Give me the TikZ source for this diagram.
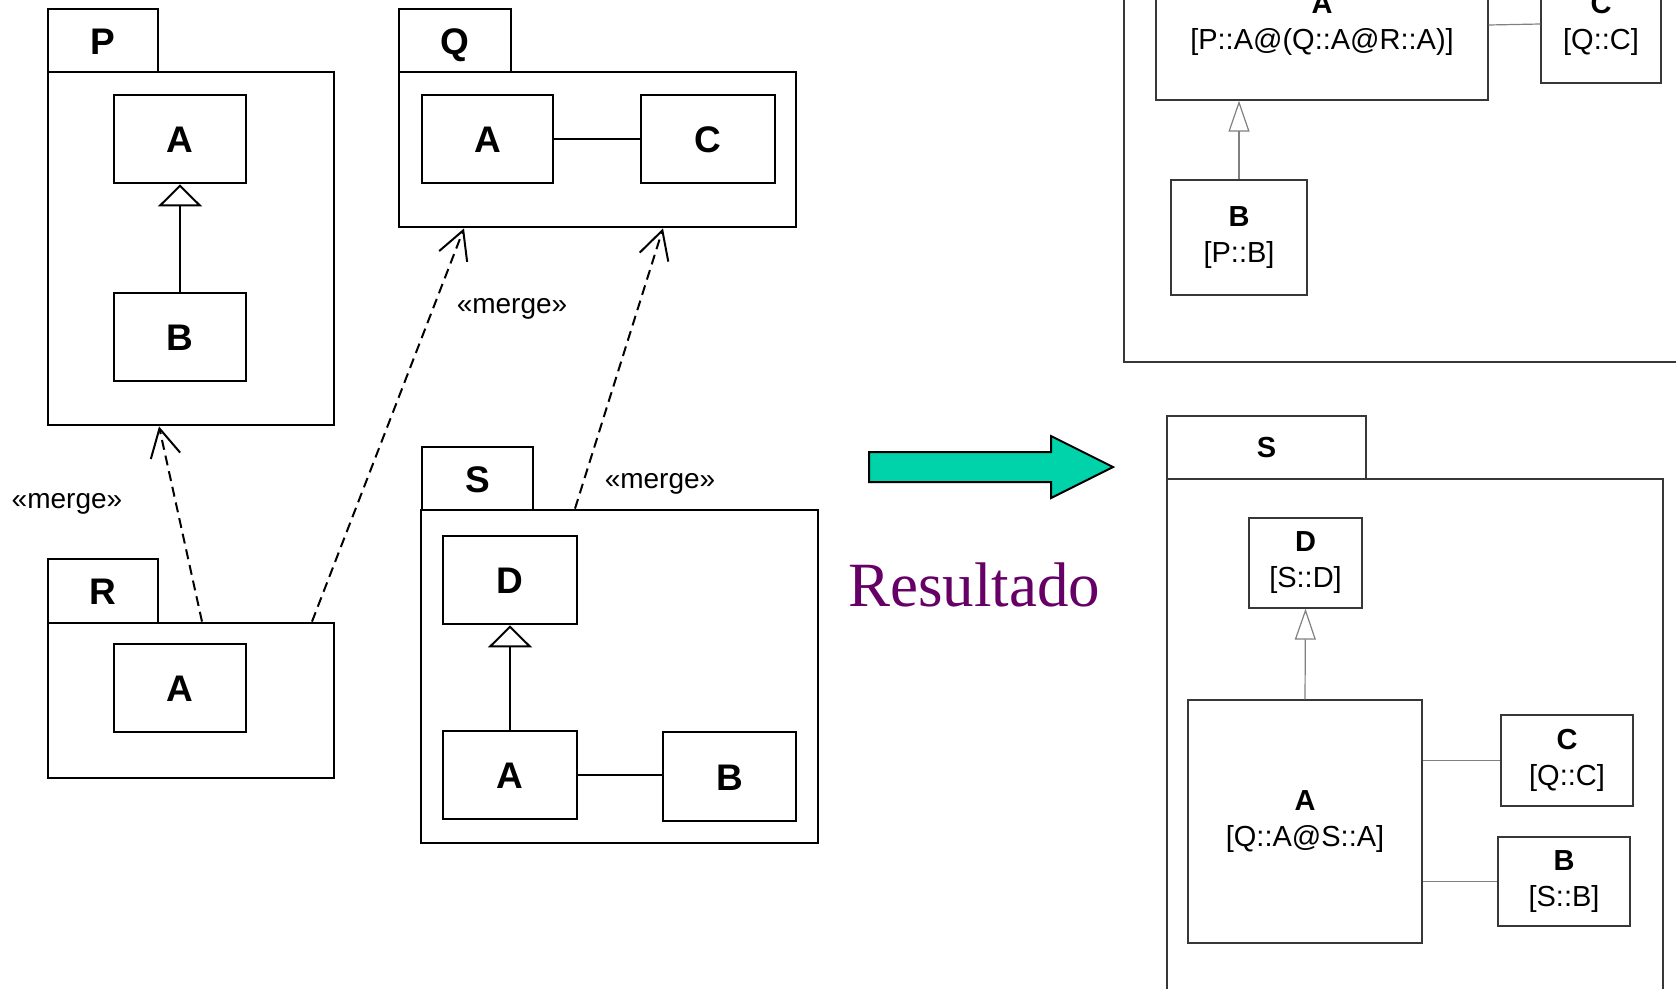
\documentclass[tikz,border=0pt]{standalone}
\usepackage{fontspec}
\setmainfont{Liberation Sans}
\newfontfamily\serifada{Liberation Serif}
\usetikzlibrary{arrows.meta}
\definecolor{verdeagua}{RGB}{0,210,170}
\definecolor{roxo}{RGB}{102,0,102}
\definecolor{cinza}{RGB}{55,55,55}
\tikzstyle{classe} = [rectangle, draw=black, line width=2.8, inner sep=0, minimum width=132, minimum height=88, text height=27, text depth=0, font=\fontsize{37}{40}\selectfont\bfseries]
\tikzstyle{pacote} = [rectangle, draw=black, line width=2.8, inner sep=0]
\tikzstyle{aba} = [rectangle, draw=black, line width=2.8, inner sep=0, minimum width=110, minimum height=63, text height=27, text depth=0, font=\fontsize{37}{40}\selectfont\bfseries]
\tikzstyle{classefina} = [rectangle, draw=cinza, line width=1.3, inner sep=0, align=center, font=\fontsize{29}{36}\selectfont]
\tikzstyle{pacotefino} = [rectangle, draw=cinza, line width=1.3, inner sep=0, font=\fontsize{29}{36}\selectfont\bfseries]
\tikzstyle{rotulo} = [font=\fontsize{28}{30}\selectfont]
\tikzstyle{dependencia} = [line width=2, dash pattern=on 10pt off 6pt, -{Straight Barb[length=28pt, width=30pt, line width=2pt]}]
\tikzstyle{heranca} = [line width=2.2, -{Triangle[open, length=22pt, width=44pt, line width=2pt]}]
\tikzstyle{assoc} = [line width=2.2]
\tikzstyle{herancafina} = [line width=1.2, draw=gray, -{Triangle[open, length=31pt, width=21pt, line width=1.2pt]}]
\tikzstyle{assocfina} = [line width=1.2, draw=gray]

\begin{document}
\begin{tikzpicture}[x=1pt, y=-1pt]
\useasboundingbox (0,0) rectangle (1676,988);
\clip (0,0) rectangle (1676,988);

% Pacotes de origem
\node (Paba) [aba] at (103,40.5) {P};
\node (Pc) [pacote, minimum width=286, minimum height=353] at (191,248.5) {};
\node (PA) [classe] at (180,139) {A};
\node (PB) [classe] at (180,337) {B};

\node (Qaba) [aba, minimum width=112] at (455,40.5) {Q};
\node (Qc) [pacote, minimum width=397, minimum height=155] at (597.5,149.5) {};
\node (QA) [classe, minimum width=131] at (487.5,139) {A};
\node (QC) [classe, minimum width=134] at (708,139) {C};

\node (Raba) [aba, minimum height=64] at (103,591) {R};
\node (Rc) [pacote, minimum width=286, minimum height=155] at (191,700.5) {};
\node (RA) [classe] at (180,688) {A};

\node (Saba) [aba, minimum width=111] at (477.5,478.5) {S};
\node (Sc) [pacote, minimum width=397, minimum height=333] at (619.5,676.5) {};
\node (SD) [classe, minimum width=134] at (510,580) {D};
\node (SA) [classe, minimum width=134] at (510,775) {A};
\node (SB) [classe, minimum width=133, minimum height=89] at (729.5,776.5) {B};

% Conexões
\draw [heranca] (PB.north) -- (PA.south);
\draw [heranca] (SA.north) -- (SD.south);
\draw [assoc] (QA.east) -- (QC.west);
\draw [assoc] (SA.east) -- (SA.east -| SB.west);

\draw [dependencia] ([xshift=11]Rc.north) -- ([xshift=-32]Pc.south);
\draw [dependencia] ([xshift=121]Rc.north) -- ([xshift=-133.5]Qc.south);
\draw [dependencia] ([xshift=-44.5]Sc.north) -- ([xshift=65.5]Qc.south);

\node (m1) [rotulo] at (67,504) {«merge»};
\node (m2) [rotulo] at (512,309) {«merge»};
\node (m3) [rotulo] at (660,484) {«merge»};

% Seta e resultado
\draw [line width=2, fill=verdeagua] (869,452) -- (1051,452) -- (1051,436) -- (1113,467) -- (1051,498) -- (1051,482) -- (869,482) -- cycle;
\node (resultado) [text=roxo, font=\serifada\fontsize{63}{70}\selectfont, anchor=base] at (974,606) {Resultado};

% Pacote resultante (topo)
\node (Tc) [pacotefino, minimum width=576, minimum height=392] at (1412,166) {};
\node (TA) [classefina, minimum width=332, minimum height=150] at (1322,25) {\textbf{A}\\{}[P::A@(Q::A@R::A)]};
\node (TC) [classefina, minimum width=120, minimum height=118] at (1601,24) {\textbf{C}\\{}[Q::C]};
\node (TB) [classefina, minimum width=136, minimum height=115] at (1239,237.5) {\textbf{B}\\{}[P::B]};

\draw [assocfina] (TA.east) -- (TC.west);
\draw [herancafina] (TB.north) -- (TB.north |- TA.south);

% Pacote S resultante
\node (Sfaba) [pacotefino, minimum width=199, minimum height=63] at (1266.5,447.5) {S};
\node (Sfc) [pacotefino, minimum width=496, minimum height=531] at (1415,744.5) {};
\node (SfD) [classefina, minimum width=113, minimum height=90] at (1305.5,563) {\textbf{D}\\{}[S::D]};
\node (SfA) [classefina, minimum width=234, minimum height=243] at (1305,821.5) {\textbf{A}\\{}[Q::A@S::A]};
\node (SfC) [classefina, minimum width=132, minimum height=91] at (1567,760.5) {\textbf{C}\\{}[Q::C]};
\node (SfB) [classefina, minimum width=132, minimum height=89] at (1564,881.5) {\textbf{B}\\{}[S::B]};

\draw [herancafina] (SfA.north) -- (SfD.south);
\draw [assocfina] (SfA.east |- SfC.west) -- (SfC.west);
\draw [assocfina] (SfA.east |- SfB.west) -- (SfB.west);

\end{tikzpicture}
\end{document}
